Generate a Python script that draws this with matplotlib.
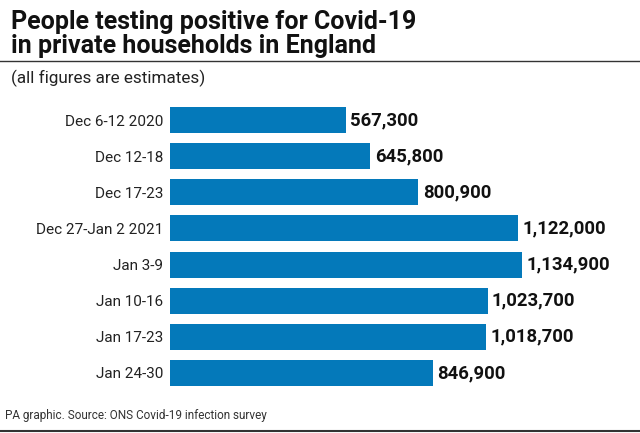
import numpy as np
import matplotlib.pyplot as plt

plt.rcParams['font.family'] = ['Roboto', 'DejaVu Sans']

weeks = ['Dec 6-12 2020', 'Dec 12-18', 'Dec 17-23', 'Dec 27-Jan 2 2021',
         'Jan 3-9', 'Jan 10-16', 'Jan 17-23', 'Jan 24-30']
positives = [567300, 645800, 800900, 1122000, 1134900, 1023700, 1018700, 846900]
bar_colour = '#0479BA'

W, H = 640, 433
fig = plt.figure(figsize=(W / 100, H / 100), dpi=100)

# axes placed in pixel terms so bars line up with the reference
ax = fig.add_axes([170 / W, 1 - 391 / H, 460 / W, (391 - 102) / H])
y = np.arange(len(weeks))
ax.barh(y, positives, height=0.72, color=bar_colour)
ax.set_xlim(0, 1482700)
ax.set_ylim(len(weeks) - 0.5, -0.5)
ax.set_yticks(y)
ax.set_yticklabels(weeks, fontsize=11, color='#222222')
ax.tick_params(axis='y', length=0, pad=5)
ax.set_xticks([])
for s in ax.spines.values():
    s.set_visible(False)

for yi, v in zip(y, positives):
    ax.text(v + 14000, yi, f'{v:,}', va='center', ha='left',
            fontsize=13.3, fontweight='bold', color='#111111')

title = ['People testing positive for Covid-19', 'in private households in England']
for i, line in enumerate(title):
    fig.text(11 / W, 1 - (29 + 24 * i) / H, line, fontsize=18, fontweight='bold',
             color='#111111', va='baseline', ha='left')
fig.add_artist(plt.Line2D([0, 1], [1 - 61 / H, 1 - 61 / H], color='#333333', lw=1))
fig.text(11 / W, 1 - 83 / H, '(all figures are estimates)', fontsize=12.3, color='#222222',
         va='baseline', ha='left')
fig.text(5 / W, 1 - 419 / H, 'PA graphic. Source: ONS Covid-19 infection survey',
         fontsize=8.5, color='#333333', va='baseline', ha='left')
fig.add_artist(plt.Line2D([0, 1], [1 - 431 / H, 1 - 431 / H], color='#333333', lw=1.5))

fig.savefig('out.png', dpi=100)
